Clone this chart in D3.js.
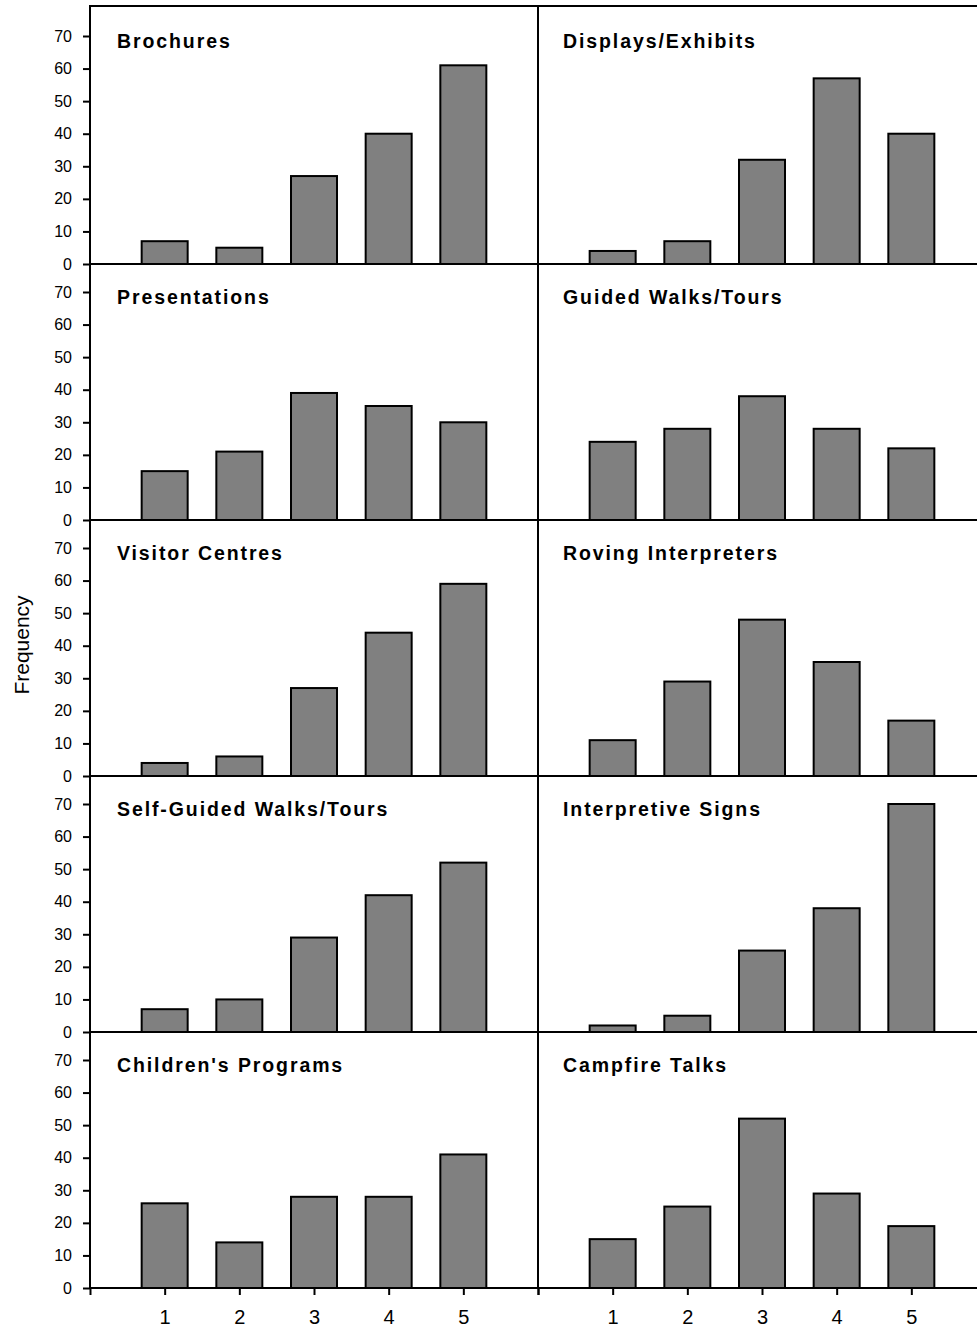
<!DOCTYPE html>
<meta charset="utf-8">
<style>
  body { margin: 0; background: #fff; }
  svg { display: block; font-family: "Liberation Sans", Arial, sans-serif; }
</style>

<script src="https://d3js.org/d3.v7.min.js"></script>

<div id="chart"></div>

<script>
  // ratings 1..5 and the frequency of each, one list per panel
  var categories = [1, 2, 3, 4, 5];
  var yTicks = [0, 10, 20, 30, 40, 50, 60, 70];

  var panelNames = [
    "Brochures", "Displays/Exhibits",
    "Presentations", "Guided Walks/Tours",
    "Visitor Centres", "Roving Interpreters",
    "Self-Guided Walks/Tours", "Interpretive Signs",
    "Children's Programs", "Campfire Talks"
  ];

  var brochures      = [7, 5, 27, 40, 61];
  var displays       = [4, 7, 32, 57, 40];
  var presentations  = [15, 21, 39, 35, 30];
  var guidedWalks    = [24, 28, 38, 28, 22];
  var visitorCentres = [4, 6, 27, 44, 59];
  var roving         = [11, 29, 48, 35, 17];
  var selfGuided     = [7, 10, 29, 42, 52];
  var signs          = [2, 5, 25, 38, 70];
  var childrens      = [26, 14, 28, 28, 41];
  var campfire       = [15, 25, 52, 29, 19];

  var panelValues = [brochures, displays, presentations, guidedWalks, visitorCentres,
                     roving, selfGuided, signs, childrens, campfire];

  var width = 977, height = 1332;
  var marginLeft = 90, frameTop = 6, colW = 448, rowH = 256, firstZero = 264;
  var nRows = 5;

  var svg = d3.select("#chart").append("svg")
      .attr("width", width)
      .attr("height", height);

  // x: slots 0..6, bars sit on 1..5
  var x = d3.scaleLinear().domain([0, 6]).range([0, colW]);
  var barW = 46;

  for (var i = 0; i < panelNames.length; i++) {
    var r = Math.floor(i / 2), c = i % 2;
    var x0 = marginLeft + c * colW;
    var zeroY = firstZero + r * rowH;
    var y = d3.scaleLinear().domain([0, 70]).range([zeroY, zeroY - 228]);

    var g = svg.append("g");

    g.selectAll("rect")
      .data(panelValues[i])
      .enter()
      .append("rect")
        .attr("x", function(d, k) { return x0 + x(categories[k]) - barW / 2; })
        .attr("y", function(d) { return y(d); })
        .attr("width", barW)
        .attr("height", function(d) { return y(0) - y(d); })
        .style("fill", "#808080")
        .style("stroke", "#000")
        .style("stroke-width", 2);

    g.append("text")
      .attr("x", x0 + (c == 0 ? 27 : 25))
      .attr("y", zeroY - 216)
      .style("font-size", "19.5px")
      .style("font-weight", "bold")
      .style("letter-spacing", "1.9px")
      .text(panelNames[i]);

    // y axis on the left column only
    if (c == 0) {
      var ya = svg.append("g")
        .attr("transform", "translate(" + marginLeft + ",0)")
        .call(d3.axisLeft(y).tickValues(yTicks).tickSize(7).tickPadding(11));
      ya.select(".domain").remove();
      ya.selectAll("line").attr("stroke", "#000").attr("stroke-width", 2);
      ya.selectAll("text").style("font-size", "16px").attr("fill", "#000");
    }
  }

  // baselines for each row
  for (var r = 0; r < nRows; r++) {
    var zy = firstZero + r * rowH;
    svg.append("line")
      .attr("x1", marginLeft).attr("x2", width)
      .attr("y1", zy).attr("y2", zy)
      .attr("stroke", "#000").attr("stroke-width", 2);
  }

  var bottomY = firstZero + (nRows - 1) * rowH;

  // frame: top border, left axis, middle divider
  svg.append("line")
    .attr("x1", marginLeft - 1).attr("x2", width)
    .attr("y1", frameTop).attr("y2", frameTop)
    .attr("stroke", "#000").attr("stroke-width", 2);
  svg.append("line")
    .attr("x1", marginLeft).attr("x2", marginLeft)
    .attr("y1", frameTop).attr("y2", bottomY)
    .attr("stroke", "#000").attr("stroke-width", 2);
  svg.append("line")
    .attr("x1", marginLeft + colW).attr("x2", marginLeft + colW)
    .attr("y1", frameTop).attr("y2", bottomY)
    .attr("stroke", "#000").attr("stroke-width", 2);

  // bottom x axes
  for (var c = 0; c < 2; c++) {
    var xa = svg.append("g")
      .attr("transform", "translate(" + (marginLeft + c * colW) + "," + bottomY + ")")
      .call(d3.axisBottom(x).tickValues([0].concat(categories, [6])).tickSize(7).tickPadding(15)
        .tickFormat(function(d) { return categories.indexOf(d) >= 0 ? d : ""; }));
    xa.select(".domain").remove();
    xa.selectAll("line").attr("stroke", "#000").attr("stroke-width", 2);
    xa.selectAll("text").style("font-size", "20px").attr("fill", "#000");
  }

  // y label
  svg.append("text")
    .attr("transform", "translate(29,645) rotate(-90)")
    .attr("text-anchor", "middle")
    .style("font-size", "21px")
    .text("Frequency");
</script>
